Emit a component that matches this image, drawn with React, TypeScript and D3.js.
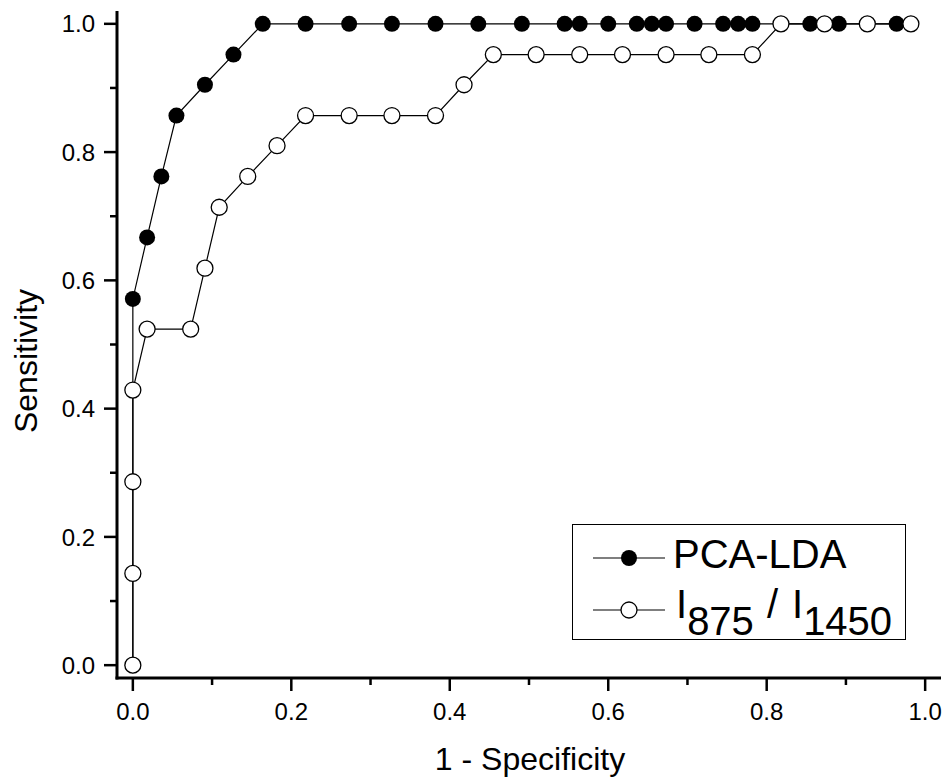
import React from "react";
import * as d3 from "d3";

// ---- data ----
const pcaX = [0, 0, 0.018, 0.036, 0.055, 0.091, 0.127, 0.164, 0.218, 0.273, 0.327, 0.382, 0.436, 0.491, 0.545, 0.564, 0.6, 0.636, 0.655, 0.673, 0.709, 0.745, 0.764, 0.782, 0.855, 0.891, 0.964];
const pcaY = [0, 0.571, 0.667, 0.762, 0.857, 0.905, 0.952, 1, 1, 1, 1, 1, 1, 1, 1, 1, 1, 1, 1, 1, 1, 1, 1, 1, 1, 1, 1];
const ratioX = [0, 0, 0, 0, 0.018, 0.073, 0.091, 0.109, 0.145, 0.182, 0.218, 0.273, 0.327, 0.382, 0.418, 0.455, 0.509, 0.564, 0.618, 0.673, 0.727, 0.782, 0.818, 0.873, 0.927, 0.982];
const ratioY = [0, 0.143, 0.286, 0.429, 0.524, 0.524, 0.619, 0.714, 0.762, 0.81, 0.857, 0.857, 0.857, 0.857, 0.905, 0.952, 0.952, 0.952, 0.952, 0.952, 0.952, 0.952, 1, 1, 1, 1];
const majorTicks = [0, 0.2, 0.4, 0.6, 0.8, 1.0];
const minorTicks = [0.1, 0.3, 0.5, 0.7, 0.9];
const xTitle = "1 - Specificity";
const yTitle = "Sensitivity";
const legendPCA = "PCA-LDA";

const W = 947;
const H = 778;
const FONT = "'Liberation Sans', Arial, Helvetica, sans-serif";

export default function App() {
  const x = d3.scaleLinear().domain([-0.02, 1.02]).range([117, 941]);
  const y = d3.scaleLinear().domain([-0.02, 1.02]).range([678, 11]);
  const line = d3
    .line<[number, number]>()
    .x((d) => x(d[0]))
    .y((d) => y(d[1]));
  const pca: [number, number][] = pcaX.map((v, i) => [v, pcaY[i]]);
  const ratio: [number, number][] = ratioX.map((v, i) => [v, ratioY[i]]);
  const fmt = d3.format(".1f");
  const R = 8;
  const axisW = 3;
  const tickW = 2.5;

  return (
    <svg
      width={W}
      height={H}
      style={{ position: "absolute", left: 0, top: 0, background: "#fff" }}
      fontFamily={FONT}
    >
      <rect x={0} y={0} width={W} height={H} fill="#fff" />
      {/* series lines and markers */}
      <path d={line(pca) || ""} fill="none" stroke="#000" strokeWidth={1.2} />
      {pca.map((d, i) => (
        <circle key={"p" + i} cx={x(d[0])} cy={y(d[1])} r={R} fill="#000" />
      ))}
      <path d={line(ratio) || ""} fill="none" stroke="#000" strokeWidth={1.2} />
      {ratio.map((d, i) => (
        <circle
          key={"r" + i}
          cx={x(d[0])}
          cy={y(d[1])}
          r={R}
          fill="#fff"
          stroke="#000"
          strokeWidth={1.3}
        />
      ))}

      {/* axes */}
      <line x1={x(-0.02)} x2={x(-0.02)} y1={y(1.02)} y2={y(-0.02) + 1.5} stroke="#000" strokeWidth={axisW} />
      <line x1={x(-0.02) - 1.5} x2={x(1.02)} y1={y(-0.02)} y2={y(-0.02)} stroke="#000" strokeWidth={axisW} />

      {majorTicks.map((t) => (
        <g key={"xm" + t}>
          <line x1={x(t)} x2={x(t)} y1={y(-0.02)} y2={y(-0.02) + 13} stroke="#000" strokeWidth={tickW} />
          <text x={x(t)} y={720} textAnchor="middle" fontSize={24} fill="#000">
            {fmt(t)}
          </text>
        </g>
      ))}
      {minorTicks.map((t) => (
        <line key={"xn" + t} x1={x(t)} x2={x(t)} y1={y(-0.02)} y2={y(-0.02) + 7} stroke="#000" strokeWidth={tickW} />
      ))}
      {majorTicks.map((t) => (
        <g key={"ym" + t}>
          <line x1={x(-0.02) - 13} x2={x(-0.02)} y1={y(t)} y2={y(t)} stroke="#000" strokeWidth={tickW} />
          <text x={95} y={y(t)} dy="0.36em" textAnchor="end" fontSize={24} fill="#000">
            {fmt(t)}
          </text>
        </g>
      ))}
      {minorTicks.map((t) => (
        <line key={"yn" + t} x1={x(-0.02) - 7} x2={x(-0.02)} y1={y(t)} y2={y(t)} stroke="#000" strokeWidth={tickW} />
      ))}

      {/* axis titles */}
      <text x={530} y={770} textAnchor="middle" fontSize={32} fill="#000">
        {xTitle}
      </text>
      <text
        transform={`translate(37,361) rotate(-90)`}
        textAnchor="middle"
        fontSize={32}
        fill="#000"
      >
        {yTitle}
      </text>

      {/* legend */}
      <rect x={572.5} y={524.5} width={333} height={115} fill="#fff" stroke="#000" strokeWidth={1} />
      <line x1={593} x2={665} y1={558} y2={558} stroke="#000" strokeWidth={1.2} />
      <circle cx={629} cy={558} r={R} fill="#000" />
      <text x={673} y={568} fontSize={40} fill="#000">
        {legendPCA}
      </text>
      <line x1={593} x2={665} y1={610} y2={610} stroke="#000" strokeWidth={1.2} />
      <circle cx={629} cy={610} r={R} fill="#fff" stroke="#000" strokeWidth={1.3} />
      <text x={676} y={618} fontSize={40} fill="#000">
        <tspan>I</tspan>
        <tspan dy={17}>875</tspan>
        <tspan dy={-17} dx={13}>/</tspan>
        <tspan dx={14}>I</tspan>
        <tspan dy={17}>1450</tspan>
      </text>
    </svg>
  );
}
